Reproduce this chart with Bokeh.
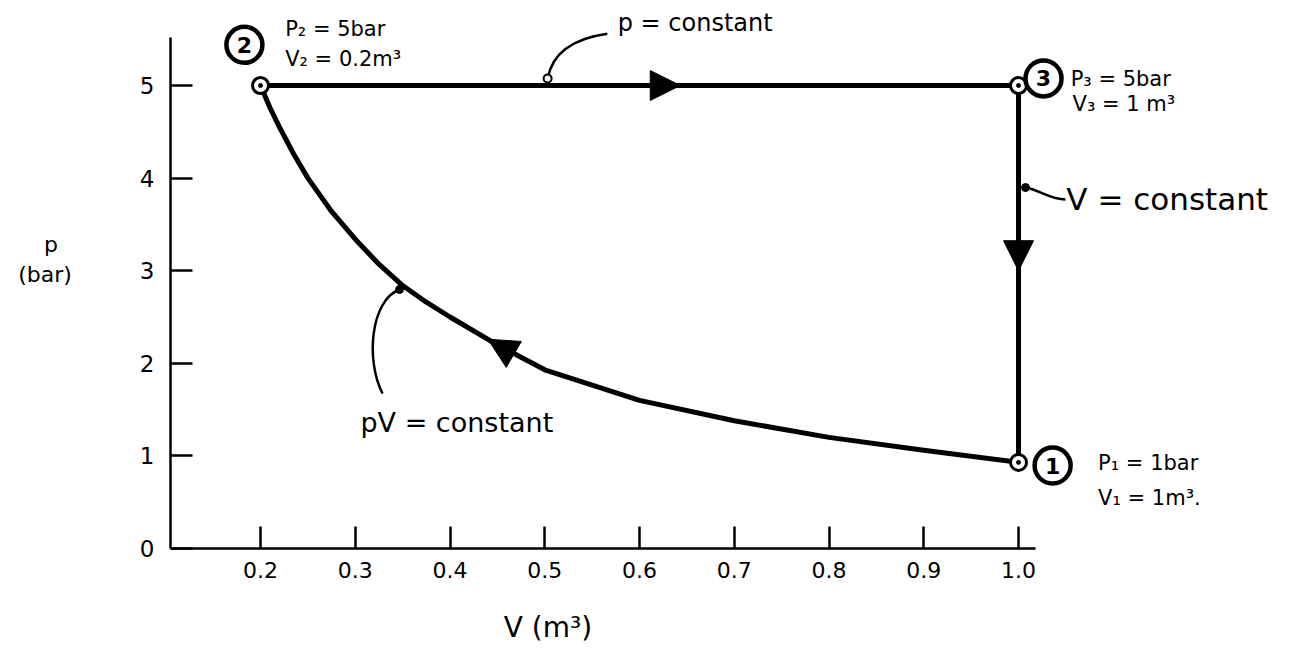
from bokeh.plotting import figure
from bokeh.models import Range1d, FixedTicker, Label, Arrow, NormalHead
from bokeh.core.properties import value
from bokeh.embed import file_html
from bokeh.resources import INLINE

# ---------------- data ----------------
# state points: 1, 2, 3
state_names = ["1", "2", "3"]
state_V = [1.0, 0.2, 1.0]          # m^3
state_p = [0.93, 5.0, 5.0]         # bar (as drawn)

# process 1 -> 2 : pV = constant
curve_V = [0.2, 0.21, 0.22, 0.235, 0.25, 0.275, 0.3, 0.325, 0.35, 0.375, 0.4,
           0.45, 0.5, 0.6, 0.7, 0.8, 0.9, 1.0]
curve_p = [5.0, 4.76, 4.55, 4.26, 4.0, 3.64, 3.34, 3.07, 2.84, 2.66, 2.5,
           2.2, 1.93, 1.6, 1.38, 1.2, 1.06, 0.93]

# process 2 -> 3 : p = constant ; process 3 -> 1 : V = constant
line23_V = [0.2, 1.0]
line23_p = [5.0, 5.0]
line31_V = [1.0, 1.0]
line31_p = [5.0, 0.93]

# direction arrows on the three processes (tip and a point behind it)
arrow_tip_V = [0.643, 1.0, 0.44]
arrow_tip_p = [5.0, 3.0, 2.26]
arrow_tail_V = [0.6, 1.0, 0.47]
arrow_tail_p = [5.0, 3.4, 2.08]

x_ticks = [0.2, 0.3, 0.4, 0.5, 0.6, 0.7, 0.8, 0.9, 1.0]
x_tick_labels = ["0.2", "0.3", "0.4", "0.5", "0.6", "0.7", "0.8", "0.9", "1.0"]
y_ticks = [0, 1, 2, 3, 4, 5]
y_tick_labels = ["0", "1", "2", "3", "4", "5"]

# axis titles (non-breaking / em spaces only shift the text to where it is drawn)
y_title = "p\u00a0\u00a0\n(bar)\n\u00a0"
x_title = "V (m\u00b3)" + "\u2003" * 13

FONT = "DejaVu Sans"

# ---------------- figure ----------------
H = 656
p = figure(width=1289, height=H, output_backend="svg", toolbar_location=None,
           x_range=Range1d(0.105, 1.286), y_range=Range1d(0, 5.918),
           min_border_left=170, min_border_bottom=H - 548, min_border_top=0, min_border_right=0)
p.outline_line_color = None
p.xgrid.grid_line_color = None
p.ygrid.grid_line_color = None
p.background_fill_color = "white"

for ax in (p.xaxis[0], p.yaxis[0]):
    ax.axis_line_width = 2.5
    ax.axis_line_color = "black"
    ax.major_tick_line_width = 2.5
    ax.major_tick_line_color = "black"
    ax.major_tick_in = 22
    ax.major_tick_out = 0
    ax.minor_tick_line_color = None
    ax.major_label_text_font = FONT
    ax.major_label_text_color = "black"
    ax.axis_label_text_font = FONT
    ax.axis_label_text_font_style = "normal"
    ax.axis_label_text_color = "black"

p.xaxis.ticker = FixedTicker(ticks=x_ticks)
p.xaxis.major_label_overrides = dict(zip(x_ticks, x_tick_labels))
p.xaxis.bounds = (0.105, 1.018)
p.xaxis.major_label_text_font_size = "22px"
p.xaxis.major_label_standoff = 13
p.xaxis.axis_label = x_title
p.xaxis.axis_label_text_font_size = "28px"
p.xaxis.axis_label_standoff = 30

p.yaxis.ticker = FixedTicker(ticks=y_ticks)
p.yaxis.major_label_overrides = dict(zip(y_ticks, y_tick_labels))
p.yaxis.bounds = (0, 5.518)
p.yaxis.major_label_text_font_size = "23px"
p.yaxis.major_label_standoff = 16
p.yaxis.axis_label = y_title
p.yaxis.axis_label_orientation = "horizontal"
p.yaxis.axis_label_text_font_size = "22px"
p.yaxis.axis_label_standoff = 65

# ---------------- processes ----------------
LW = 5
p.line(curve_V, curve_p, line_width=LW, color="black", line_join="round", line_cap="round")
p.line(line23_V, line23_p, line_width=LW, color="black")
p.line(line31_V, line31_p, line_width=LW, color="black")

# arrows
for xs, ys, xe, ye in zip(arrow_tail_V, arrow_tail_p, arrow_tip_V, arrow_tip_p):
    p.add_layout(Arrow(end=NormalHead(size=30, fill_color="black", line_color="black",
                                      line_width=1),
                       x_start=xs, y_start=ys, x_end=xe, y_end=ye, line_alpha=0))

# state markers
p.scatter(state_V, state_p, marker="circle", size=16, fill_color="white",
          line_color="black", line_width=3)
p.scatter(state_V, state_p, marker="circle", size=4, fill_color="black", line_color="black")

# numbered circles next to the states (annotation positions)
tag_V = [1.036, 0.183, 1.0264]
tag_p = [0.896, 5.44, 5.076]
p.scatter(tag_V, tag_p, marker="circle", size=36, fill_color=None,
          line_color="black", line_width=4.5)
p.text(tag_V, tag_p, text=state_names, text_font=value(FONT), text_font_size="22px",
       text_font_style="bold", text_align="center", text_baseline="middle", text_color="black")

# leader lines for the process annotations
p.bezier(x0=[0.503, 1.0074, 0.3467], y0=[5.076, 3.898, 2.797],
         x1=[0.566, 1.0496, 0.3288], y1=[5.56, 3.769, 1.674],
         cx0=[0.508, 1.0232, 0.316], cy0=[5.356, 3.866, 2.678],
         cx1=[0.529, 1.0338, 0.3108], cy1=[5.507, 3.769, 2.03],
         line_width=2.5, line_color="black")
p.scatter([0.503], [5.076], marker="circle", size=8, fill_color="white",
          line_color="black", line_width=2)
p.scatter([1.0074, 0.3467], [3.898, 2.797], marker="circle", size=8,
          fill_color="black", line_color="black")

def lab(x, y, text, size, align="left", style="normal"):
    p.add_layout(Label(x=x, y=y, text=text, text_font=FONT, text_font_size=size,
                       text_align=align, text_baseline="middle", text_color="black",
                       text_font_style=style))

lab(0.577, 5.68, "p = constant", "24px")
lab(1.0505, 3.77, "V = constant", "31px")
lab(0.3055, 1.36, "pV = constant", "27px")

lab(0.226, 5.615, "P\u2082 = 5bar", "21px")
lab(0.226, 5.29, "V\u2082 = 0.2m\u00b3", "21px")
lab(1.055, 5.075, "P\u2083 = 5bar", "21px")
lab(1.057, 4.795, "V\u2083 = 1 m\u00b3", "21px")
lab(1.084, 0.918, "P\u2081 = 1bar", "21px")
lab(1.084, 0.55, "V\u2081 = 1m\u00b3.", "21px")

open("out.html", "w").write(file_html(p, INLINE))
